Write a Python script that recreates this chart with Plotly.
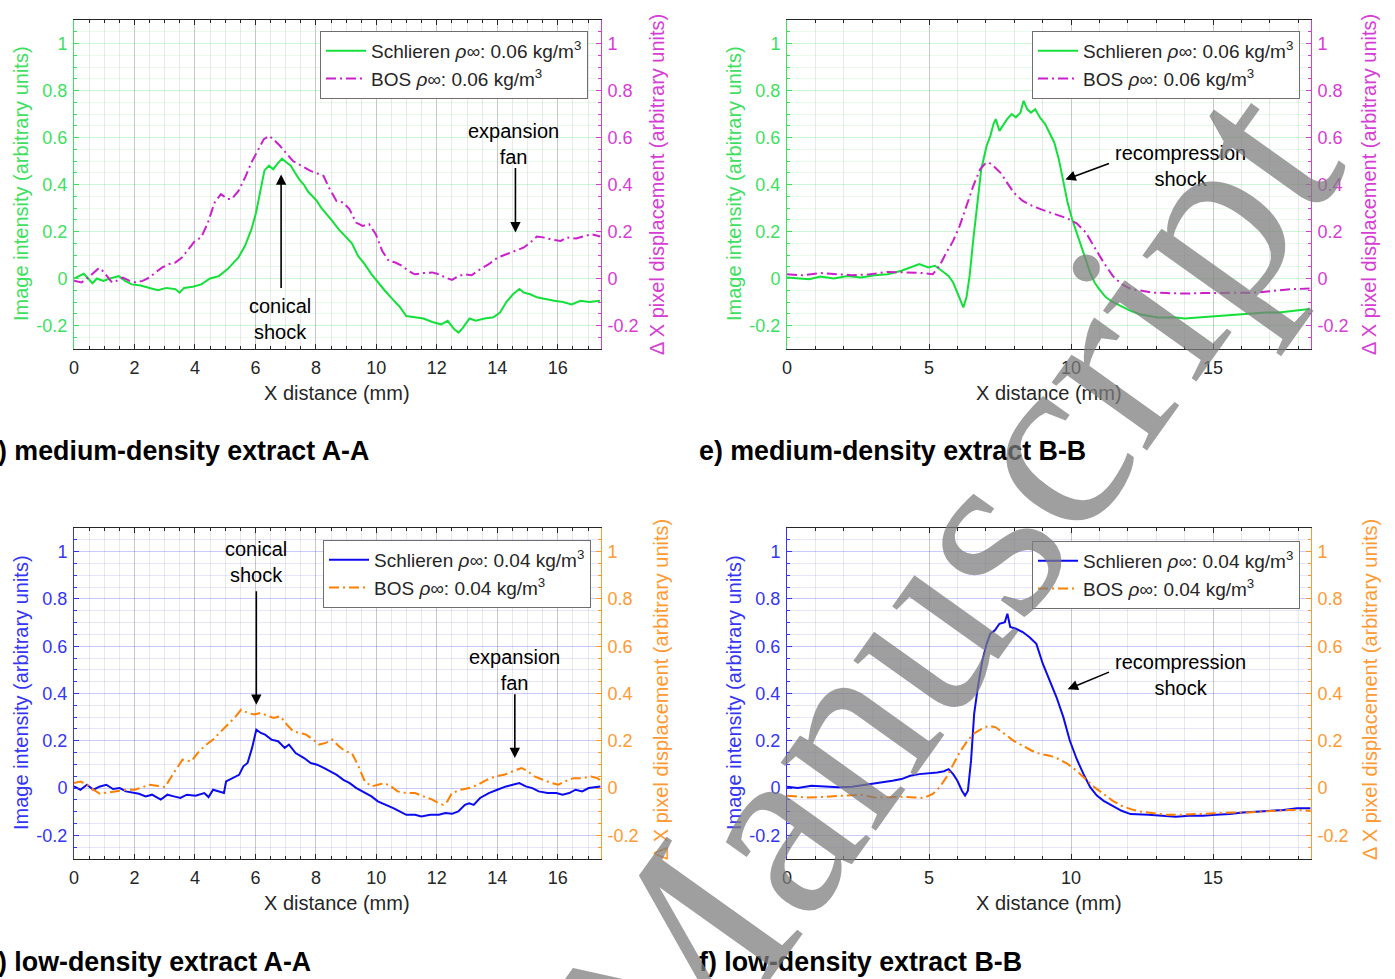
import numpy as np
import plotly.graph_objects as go

# ---------------- data ----------------
# d) medium-density A-A
TL_S_X = [0.0, 0.18, 0.32, 0.47, 0.61, 0.76, 0.97, 1.19, 1.48, 1.69, 1.91, 2.20, 2.49, 2.77, 3.06, 3.35, 3.49, 3.64,
          3.93, 4.21, 4.50, 4.79, 5.08, 5.22, 5.44, 5.66, 5.87, 6.02, 6.16, 6.30, 6.45, 6.59, 6.74, 6.88, 7.02, 7.17,
          7.31, 7.46, 7.60, 7.74, 7.89, 8.03, 8.18, 8.32, 8.54, 8.75, 8.97, 9.19, 9.40, 9.62, 9.83, 10.05, 10.27,
          10.55, 10.77, 10.99, 11.28, 11.56, 11.85, 12.14, 12.36, 12.57, 12.72, 12.86, 13.08, 13.29, 13.58, 13.87,
          14.09, 14.30, 14.52, 14.73, 14.88, 15.09, 15.31, 15.60, 15.88, 16.17, 16.46, 16.75, 17.04, 17.40]
TL_S_Y = [0.0, 0.01, 0.02, 0.0, -0.02, 0.0, -0.01, 0.0, 0.01, -0.01, -0.025, -0.03, -0.04, -0.05, -0.04, -0.045,
          -0.06, -0.04, -0.035, -0.025, 0.0, 0.01, 0.04, 0.06, 0.09, 0.14, 0.21, 0.28, 0.37, 0.46, 0.48, 0.465, 0.49,
          0.51, 0.495, 0.48, 0.45, 0.42, 0.40, 0.37, 0.35, 0.33, 0.30, 0.28, 0.245, 0.21, 0.18, 0.15, 0.095, 0.06,
          0.02, -0.017, -0.05, -0.09, -0.12, -0.16, -0.165, -0.17, -0.185, -0.195, -0.18, -0.215, -0.23, -0.21,
          -0.17, -0.18, -0.17, -0.165, -0.145, -0.10, -0.067, -0.045, -0.06, -0.067, -0.08, -0.088, -0.095, -0.10,
          -0.11, -0.095, -0.10, -0.095]
TL_B_X = [0.0, 0.25, 0.47, 0.68, 0.83, 0.97, 1.12, 1.26, 1.40, 1.62, 1.84, 2.05, 2.27, 2.49, 2.70, 2.92, 3.13, 3.35,
          3.57, 3.78, 4.00, 4.21, 4.43, 4.65, 4.86, 5.08, 5.22, 5.44, 5.66, 5.87, 6.09, 6.28, 6.45, 6.59, 6.81, 7.02,
          7.24, 7.53, 7.82, 8.03, 8.25, 8.46, 8.68, 8.90, 9.11, 9.33, 9.55, 9.76, 9.98, 10.19, 10.41, 10.63, 10.84,
          11.06, 11.27, 11.56, 11.85, 12.07, 12.28, 12.50, 12.72, 12.93, 13.15, 13.44, 13.72, 14.01, 14.30, 14.59,
          14.88, 15.09, 15.31, 15.52, 15.81, 16.10, 16.31, 16.61, 16.89, 17.11, 17.40]
TL_B_Y = [-0.01, -0.017, 0.004, 0.03, 0.045, 0.03, 0.004, -0.017, -0.01, 0.004, -0.01, -0.017, -0.01, 0.004, 0.026,
          0.047, 0.061, 0.068, 0.089, 0.125, 0.16, 0.175, 0.238, 0.323, 0.359, 0.338, 0.338, 0.373, 0.43, 0.494,
          0.55, 0.593, 0.607, 0.593, 0.565, 0.533, 0.50, 0.479, 0.458, 0.448, 0.437, 0.38, 0.33, 0.323, 0.295,
          0.238, 0.224, 0.231, 0.189, 0.118, 0.075, 0.068, 0.054, 0.033, 0.018, 0.023, 0.026, 0.018, 0.004, -0.006,
          0.011, 0.018, 0.014, 0.04, 0.061, 0.089, 0.104, 0.118, 0.132, 0.153, 0.179, 0.175, 0.165, 0.16, 0.175,
          0.17, 0.182, 0.189, 0.179]

# e) medium-density B-B
TR_S_X = [0.0, 0.38, 0.78, 1.18, 1.65, 2.13, 2.60, 3.08, 3.55, 4.03, 4.34, 4.66, 4.97, 5.21, 5.45, 5.69, 5.85, 6.00,
          6.13, 6.21, 6.32, 6.43, 6.56, 6.72, 6.84, 7.03, 7.16, 7.27, 7.35, 7.48, 7.59, 7.75, 7.91, 8.06, 8.22, 8.33,
          8.46, 8.59, 8.74, 8.90, 9.09, 9.25, 9.41, 9.57, 9.72, 9.88, 10.04, 10.20, 10.36, 10.52, 10.67, 10.83,
          10.99, 11.23, 11.47, 11.78, 12.10, 12.42, 12.73, 13.05, 13.37, 13.69, 14.00, 14.48, 14.95, 15.43, 15.90,
          16.38, 16.85, 17.32, 17.80, 18.40]
TR_S_Y = [0.004, 0.0, -0.003, 0.008, 0.0, 0.011, 0.004, 0.014, 0.018, 0.033, 0.047, 0.061, 0.047, 0.054, 0.033,
          0.011, -0.017, -0.06, -0.10, -0.123, -0.08, 0.011, 0.167, 0.338, 0.465, 0.565, 0.607, 0.657, 0.678, 0.628,
          0.65, 0.678, 0.70, 0.686, 0.706, 0.756, 0.72, 0.706, 0.72, 0.686, 0.657, 0.621, 0.579, 0.508, 0.423,
          0.323, 0.252, 0.196, 0.139, 0.082, 0.026, -0.017, -0.045, -0.08, -0.10, -0.119, -0.138, -0.152, -0.159,
          -0.166, -0.166, -0.166, -0.17, -0.166, -0.162, -0.159, -0.152, -0.149, -0.145, -0.145, -0.138, -0.13]
TR_B_X = [0.0, 0.54, 1.18, 1.65, 2.29, 2.92, 3.55, 4.19, 4.82, 5.13, 5.37, 5.61, 5.85, 6.08, 6.32, 6.56, 6.80, 6.96,
          7.11, 7.27, 7.51, 7.75, 7.98, 8.30, 8.62, 8.93, 9.25, 9.57, 9.88, 10.20, 10.52, 10.83, 11.15, 11.47,
          11.78, 12.10, 12.42, 12.89, 13.37, 14.00, 14.64, 15.27, 15.90, 16.53, 17.17, 17.80, 18.40]
TR_B_Y = [0.018, 0.014, 0.023, 0.018, 0.014, 0.018, 0.028, 0.026, 0.023, 0.018, 0.054, 0.11, 0.16, 0.224, 0.31,
          0.394, 0.465, 0.487, 0.494, 0.479, 0.451, 0.408, 0.366, 0.33, 0.31, 0.295, 0.281, 0.267, 0.255, 0.235,
          0.196, 0.132, 0.068, 0.011, -0.024, -0.045, -0.052, -0.06, -0.062, -0.064, -0.062, -0.062, -0.06, -0.06,
          -0.052, -0.045, -0.043]

# low-density A-A
BL_S_X = [0.0, 0.21, 0.43, 0.64, 0.86, 1.07, 1.29, 1.51, 1.72, 1.94, 2.15, 2.37, 2.58, 2.87, 3.09, 3.30, 3.52, 3.73,
          4.02, 4.31, 4.45, 4.60, 4.81, 4.96, 5.03, 5.24, 5.46, 5.60, 5.74, 5.89, 6.03, 6.18, 6.32, 6.53, 6.75, 6.97,
          7.11, 7.33, 7.61, 7.83, 8.04, 8.26, 8.47, 8.69, 8.91, 9.12, 9.34, 9.62, 9.84, 10.05, 10.34, 10.56, 10.77,
          10.99, 11.28, 11.49, 11.78, 12.07, 12.28, 12.50, 12.71, 12.93, 13.07, 13.22, 13.43, 13.72, 14.00, 14.29,
          14.51, 14.73, 14.94, 15.16, 15.37, 15.66, 15.95, 16.16, 16.38, 16.59, 16.81, 17.02, 17.41]
BL_S_Y = [0.007, -0.007, 0.014, -0.007, 0.007, 0.014, -0.004, 0.0, -0.014, -0.018, -0.024, -0.035, -0.028, -0.049,
          -0.028, -0.035, -0.042, -0.028, -0.032, -0.021, -0.038, -0.007, -0.014, -0.021, 0.028, 0.042, 0.056,
          0.092, 0.106, 0.17, 0.247, 0.233, 0.226, 0.205, 0.198, 0.17, 0.184, 0.148, 0.127, 0.106, 0.099, 0.085,
          0.071, 0.056, 0.035, 0.021, 0.0, -0.021, -0.035, -0.056, -0.071, -0.085, -0.099, -0.113, -0.113, -0.12,
          -0.113, -0.113, -0.106, -0.109, -0.099, -0.071, -0.064, -0.071, -0.042, -0.021, -0.007, 0.007, 0.014,
          0.021, 0.007, 0.0, -0.014, -0.021, -0.021, -0.028, -0.021, -0.007, -0.014, 0.0, 0.007]
BL_B_X = [0.0, 0.21, 0.43, 0.64, 0.86, 1.15, 1.43, 1.72, 2.01, 2.30, 2.51, 2.73, 3.01, 3.30, 3.59, 3.88, 4.09, 4.31,
          4.60, 4.81, 5.03, 5.31, 5.53, 5.74, 5.96, 6.18, 6.39, 6.61, 6.82, 7.04, 7.25, 7.47, 7.68, 7.90, 8.11, 8.33,
          8.54, 8.76, 8.98, 9.19, 9.41, 9.62, 9.84, 10.05, 10.27, 10.49, 10.70, 10.99, 11.28, 11.56, 11.85, 12.07,
          12.21, 12.35, 12.50, 12.79, 13.07, 13.36, 13.65, 13.93, 14.22, 14.51, 14.80, 15.01, 15.23, 15.51, 15.80,
          16.02, 16.23, 16.52, 16.81, 17.10, 17.31, 17.45]
BL_B_Y = [0.021, 0.028, 0.014, -0.007, -0.024, -0.018, -0.014, -0.007, -0.007, 0.007, 0.014, 0.01, 0.004, 0.064,
          0.12, 0.113, 0.148, 0.177, 0.205, 0.233, 0.261, 0.297, 0.332, 0.318, 0.311, 0.318, 0.306, 0.297, 0.304,
          0.268, 0.24, 0.233, 0.226, 0.205, 0.184, 0.191, 0.205, 0.177, 0.155, 0.148, 0.092, 0.028, 0.007, 0.014,
          0.021, 0.007, -0.014, -0.021, -0.021, -0.035, -0.049, -0.064, -0.071, -0.056, -0.021, -0.007, 0.0, 0.014,
          0.035, 0.049, 0.056, 0.071, 0.085, 0.071, 0.049, 0.035, 0.021, 0.014, 0.028, 0.042, 0.042, 0.049, 0.042,
          0.028]

# f) low-density B-B
BR_S_X = [0.0, 0.38, 0.86, 1.33, 1.81, 2.29, 2.76, 3.23, 3.71, 4.03, 4.34, 4.66, 4.97, 5.29, 5.53, 5.69, 5.85, 6.00,
          6.16, 6.27, 6.37, 6.48, 6.59, 6.72, 6.88, 7.03, 7.16, 7.32, 7.48, 7.67, 7.76, 7.86, 8.06, 8.30, 8.54, 8.78,
          9.01, 9.25, 9.49, 9.73, 9.96, 10.20, 10.44, 10.68, 10.91, 11.15, 11.47, 11.78, 12.10, 12.42, 12.73, 13.21,
          13.69, 14.16, 14.64, 15.11, 15.59, 16.06, 16.54, 17.01, 17.48, 17.96, 18.43]
BR_S_Y = [0.006, 0.0, 0.01, 0.006, 0.003, 0.006, 0.014, 0.02, 0.031, 0.038, 0.052, 0.059, 0.062, 0.066, 0.071,
          0.08, 0.059, 0.031, -0.011, -0.032, -0.011, 0.116, 0.314, 0.427, 0.54, 0.61, 0.653, 0.667, 0.695, 0.702,
          0.737, 0.681, 0.674, 0.66, 0.638, 0.61, 0.525, 0.455, 0.384, 0.30, 0.20, 0.123, 0.059, 0.003, -0.032,
          -0.054, -0.075, -0.096, -0.11, -0.11, -0.113, -0.117, -0.121, -0.117, -0.117, -0.113, -0.11, -0.103,
          -0.099, -0.096, -0.093, -0.085, -0.085]
BR_B_X = [0.0, 0.70, 1.33, 2.13, 2.60, 3.08, 3.55, 4.03, 4.50, 4.82, 5.13, 5.37, 5.61, 5.85, 6.08, 6.32, 6.56, 6.85,
          7.11, 7.35, 7.67, 7.98, 8.30, 8.62, 8.93, 9.25, 9.57, 9.88, 10.20, 10.52, 10.83, 11.15, 11.47, 11.78,
          12.10, 12.42, 12.89, 13.37, 13.84, 14.32, 14.80, 15.27, 15.75, 16.22, 16.70, 17.17, 17.65, 18.12, 18.43]
BR_B_Y = [-0.032, -0.04, -0.037, -0.032, -0.028, -0.04, -0.037, -0.037, -0.04, -0.042, -0.025, 0.003, 0.045, 0.102,
          0.151, 0.194, 0.229, 0.25, 0.264, 0.257, 0.229, 0.20, 0.179, 0.158, 0.144, 0.137, 0.123, 0.102, 0.073,
          0.038, 0.003, -0.025, -0.054, -0.075, -0.089, -0.099, -0.107, -0.113, -0.113, -0.11, -0.11, -0.107,
          -0.103, -0.103, -0.099, -0.096, -0.093, -0.093, -0.096]

Y_TICKS = [-0.2, 0, 0.2, 0.4, 0.6, 0.8, 1]
Y_TICK_TEXT = ["-0.2", "0", "0.2", "0.4", "0.6", "0.8", "1"]
XA_TICKS = [0, 2, 4, 6, 8, 10, 12, 14, 16]
XB_TICKS = [0, 5, 10, 15]

LEG_MED = ["Schlieren <i>ρ∞</i>: 0.06 kg/m<sup>3</sup>", "BOS <i>ρ∞</i>: 0.06 kg/m<sup>3</sup>"]
LEG_LOW = ["Schlieren <i>ρ∞</i>: 0.04 kg/m<sup>3</sup>", "BOS <i>ρ∞</i>: 0.04 kg/m<sup>3</sup>"]
TITLES = [") medium-density extract A-A", "e) medium-density extract B-B",
          ") low-density extract A-A", "f) low-density extract B-B"]

# ---------------- style ----------------
W, H = 1395, 979
FONT = "Liberation Sans, Arial, sans-serif"
DARK = "#262626"
GREEN_L, GREEN_A = "#14e03a", "#3ee060"
MAG_L, MAG_A = "#cc1fcc", "#d63cd6"
BLUE_L, BLUE_A = "#0b0bf0", "#3535f5"
ORG_L, ORG_A = "#ff8000", "#ff9a33"
DASHDOT = "10px,4px,2px,4px"

def px_x(p):
    return p / W

def px_y(p):
    return 1 - p / H

LEFT_DOM = [px_x(74), px_x(601)]
RIGHT_DOM = [px_x(787), px_x(1311)]
TOP_DOM = [px_y(349), px_y(20)]
BOT_DOM = [px_y(859), px_y(528)]
YR = [-0.3, 1.1]

def rgba(hexc, a):
    h = hexc.lstrip('#')
    r, g, b = int(h[0:2], 16), int(h[2:4], 16), int(h[4:6], 16)
    return f"rgba({r},{g},{b},{a})"

def xaxis(domain, anchor, rng, ticks, minor_step):
    return dict(domain=domain, anchor=anchor, range=rng, tickmode="array", tickvals=ticks,
                ticktext=[str(t) for t in ticks], ticks="inside", ticklen=5, tickcolor=DARK,
                showline=True, linecolor=DARK, linewidth=1, mirror="ticks", zeroline=False,
                showgrid=True, gridcolor="rgba(38,38,38,0.16)", gridwidth=1, automargin=False,
                tickfont=dict(family=FONT, size=18, color=DARK), ticklabelstandoff=2,
                minor=dict(tickmode="array", tickvals=list(np.arange(0, rng[1], minor_step)),
                           ticks="inside", ticklen=3, tickcolor=DARK, showgrid=True,
                           gridcolor="rgba(38,38,38,0.10)", gridwidth=1))

def yleft(domain, anchor, col):
    return dict(domain=domain, anchor=anchor, range=YR, tickmode="array", tickvals=Y_TICKS,
                ticktext=Y_TICK_TEXT, ticks="inside", ticklen=5, tickcolor=col, showline=True,
                linecolor=col, linewidth=1, zeroline=False, showgrid=True, gridcolor=rgba(col, 0.16),
                tickfont=dict(family=FONT, size=18, color=col), ticklabelstandoff=2, automargin=False,
                minor=dict(tickmode="array", tickvals=list(np.round(np.arange(-0.3, 1.1, 0.05), 3)),
                           ticks="inside", ticklen=3, tickcolor=col, showgrid=True,
                           gridcolor=rgba(col, 0.12)))

def yright(over, anchor, col):
    return dict(overlaying=over, anchor=anchor, side="right", range=YR, tickmode="array",
                tickvals=Y_TICKS, ticktext=Y_TICK_TEXT, ticks="inside", ticklen=5, tickcolor=col,
                showline=True, linecolor=col, linewidth=1, zeroline=False, showgrid=False,
                tickfont=dict(family=FONT, size=18, color=col), ticklabelstandoff=2, automargin=False,
                minor=dict(tickmode="array", tickvals=list(np.round(np.arange(-0.3, 1.1, 0.05), 3)),
                           ticks="inside", ticklen=3, tickcolor=col, showgrid=False))

fig = go.Figure()

panels = [
    (TL_S_X, TL_S_Y, TL_B_X, TL_B_Y, "x", "y", "y2", LEG_MED, GREEN_L, MAG_L, "legend"),
    (TR_S_X, TR_S_Y, TR_B_X, TR_B_Y, "x2", "y3", "y4", LEG_MED, GREEN_L, MAG_L, "legend2"),
    (BL_S_X, BL_S_Y, BL_B_X, BL_B_Y, "x3", "y5", "y6", LEG_LOW, BLUE_L, ORG_L, "legend3"),
    (BR_S_X, BR_S_Y, BR_B_X, BR_B_Y, "x4", "y7", "y8", LEG_LOW, BLUE_L, ORG_L, "legend4"),
]
for sx, sy, bx, by, xa, ya, yb, names, c1, c2, leg in panels:
    fig.add_trace(go.Scatter(x=sx, y=sy, xaxis=xa, yaxis=ya, mode="lines", name=names[0],
                             line=dict(color=c1, width=2), legend=leg))
    fig.add_trace(go.Scatter(x=bx, y=by, xaxis=xa, yaxis=yb, mode="lines", name=names[1],
                             line=dict(color=c2, width=2, dash=DASHDOT), legend=leg))

def legend(xr, yt):
    return dict(x=px_x(xr), y=px_y(yt), xanchor="right", yanchor="top", bgcolor="white",
                bordercolor="#6e6e6e", borderwidth=1, font=dict(family=FONT, size=19, color=DARK),
                tracegroupgap=0, itemwidth=40)

fig.update_layout(
    width=W, height=H, margin=dict(l=0, r=0, t=0, b=0, autoexpand=False),
    paper_bgcolor="white", plot_bgcolor="white", showlegend=True,
    xaxis=xaxis(LEFT_DOM, "y", [0, 17.43], XA_TICKS, 0.5),
    yaxis=yleft(TOP_DOM, "x", GREEN_A),
    yaxis2=yright("y", "x", MAG_A),
    xaxis2=xaxis(RIGHT_DOM, "y3", [0, 18.45], XB_TICKS, 1),
    yaxis3=yleft(TOP_DOM, "x2", GREEN_A),
    yaxis4=yright("y3", "x2", MAG_A),
    xaxis3=xaxis(LEFT_DOM, "y5", [0, 17.43], XA_TICKS, 0.5),
    yaxis5=yleft(BOT_DOM, "x3", BLUE_A),
    yaxis6=yright("y5", "x3", ORG_A),
    xaxis4=xaxis(RIGHT_DOM, "y7", [0, 18.45], XB_TICKS, 1),
    yaxis7=yleft(BOT_DOM, "x4", BLUE_A),
    yaxis8=yright("y7", "x4", ORG_A),
    legend=legend(588, 31),
    legend2=legend(1300, 31),
    legend3=legend(591, 540),
    legend4=legend(1300, 541),
)

ann = []
def text(x, y, s, size=20, color=DARK, angle=0, bold=False, xanchor="center", xref="paper", yref="paper"):
    ann.append(dict(x=x, y=y, xref=xref, yref=yref, text=(f"<b>{s}</b>" if bold else s), showarrow=False,
                    textangle=angle, xanchor=xanchor, yanchor="middle",
                    font=dict(family=FONT, size=size, color=color)))

def arrow(xr, yr, tail, head):
    ann.append(dict(xref=xr, yref=yr, axref=xr, ayref=yr, x=head[0], y=head[1], ax=tail[0], ay=tail[1],
                    text="", showarrow=True, arrowhead=2, arrowsize=1.3, arrowwidth=1.6, arrowcolor="black"))

# axis titles
for cx in (337, 1049):
    text(px_x(cx), px_y(393), "X distance (mm)")
    text(px_x(cx), px_y(903), "X distance (mm)")
text(px_x(21), px_y(184), "Image intensity (arbitrary units)", color=GREEN_A, angle=-90)
text(px_x(734), px_y(184), "Image intensity (arbitrary units)", color=GREEN_A, angle=-90)
text(px_x(657), px_y(185), "Δ X pixel displacement (arbitrary units)", color=MAG_A, angle=-90)
text(px_x(1369), px_y(185), "Δ X pixel displacement (arbitrary units)", color=MAG_A, angle=-90)
text(px_x(21), px_y(693), "Image intensity (arbitrary units)", color=BLUE_A, angle=-90)
text(px_x(734), px_y(693), "Image intensity (arbitrary units)", color=BLUE_A, angle=-90)
text(px_x(661), px_y(690), "Δ X pixel displacement (arbitrary units)", color=ORG_A, angle=-90)
text(px_x(1370), px_y(690), "Δ X pixel displacement (arbitrary units)", color=ORG_A, angle=-90)

# panel captions
text(px_x(-4), px_y(451), TITLES[0], size=26.8, color="black", bold=True, xanchor="left")
text(px_x(697), px_y(451), TITLES[1], size=26.8, color="black", bold=True, xanchor="left")
text(px_x(-4), px_y(962), TITLES[2], size=26.8, color="black", bold=True, xanchor="left")
text(px_x(697), px_y(962), TITLES[3], size=26.8, color="black", bold=True, xanchor="left")

# in-plot labels and arrows
text(6.80, -0.174, "conical<br>shock", color="black", xref="x", yref="y")
arrow("x", "y", (6.85, -0.047), (6.85, 0.443))
text(14.55, 0.572, "expansion<br>fan", color="black", xref="x", yref="y")
arrow("x", "y", (14.6, 0.477), (14.6, 0.196))

text(13.84, 0.479, "recompression<br>shock", color="black", xref="x2", yref="y3")
arrow("x2", "y3", (11.39, 0.492), (9.80, 0.421))

text(6.03, 0.958, "conical<br>shock", color="black", xref="x3", yref="y5")
arrow("x3", "y5", (6.03, 0.839), (6.03, 0.352))
text(14.58, 0.498, "expansion<br>fan", color="black", xref="x3", yref="y5")
arrow("x3", "y5", (14.58, 0.403), (14.58, 0.127))

text(13.84, 0.479, "recompression<br>shock", color="black", xref="x4", yref="y7")
arrow("x4", "y7", (11.39, 0.493), (9.88, 0.418))

# watermark
ann.append(dict(x=px_x(942), y=px_y(590), xref="paper", yref="paper", text="Manuscript", showarrow=False,
                textangle=-54.5, xanchor="center", yanchor="middle",
                font=dict(family="Liberation Serif, Times New Roman, serif", size=255,
                          color="rgba(125,125,125,0.74)")))

fig.update_layout(annotations=ann)
fig.write_html("out.html")
